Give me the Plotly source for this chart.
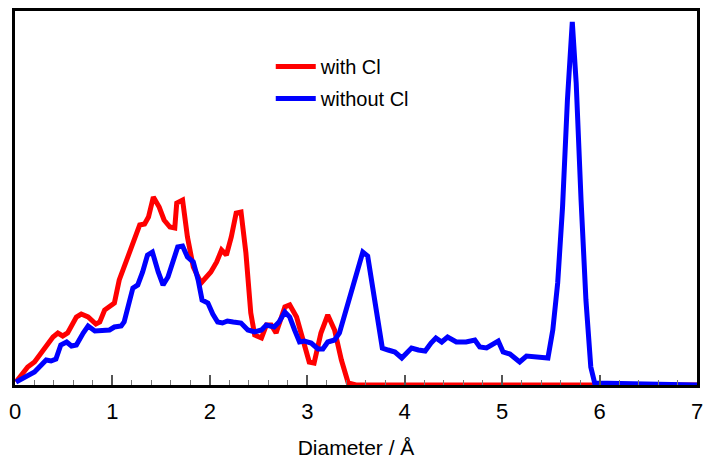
import plotly.graph_objects as go

# Diameter (Å) and distribution (arbitrary units)
x_with = [0.01, 0.13, 0.20, 0.29, 0.39, 0.44, 0.49, 0.54, 0.63, 0.68, 0.75, 0.83, 0.87, 0.92, 0.97,
          1.02, 1.07, 1.14, 1.21, 1.28, 1.33, 1.37, 1.42, 1.48, 1.53, 1.59, 1.64, 1.66, 1.72, 1.77,
          1.83, 1.91, 2.01, 2.07, 2.12, 2.17, 2.22, 2.27, 2.32, 2.37, 2.42, 2.46, 2.53, 2.58, 2.63,
          2.68, 2.77, 2.82, 2.89, 2.97, 3.02, 3.07, 3.14, 3.21, 3.28, 3.35, 3.42, 3.50, 7.00]
y_with = [3, 18, 23, 35, 48, 52, 49, 52, 68, 71, 68, 61, 63, 75, 79,
          82, 105, 123, 142, 160, 161, 168, 188, 178, 165, 158, 157, 182, 185, 148,
          118, 102, 113, 123, 135, 130, 148, 172, 173, 132, 72, 50, 47, 60, 60,
          52, 78, 80, 68, 38, 23, 22, 52, 70, 55, 25, 2, 0, 0]

x_without = [0.01, 0.11, 0.20, 0.27, 0.32, 0.37, 0.42, 0.47, 0.53, 0.58, 0.63, 0.70, 0.75, 0.82, 0.89,
             0.97, 1.02, 1.09, 1.12, 1.18, 1.21, 1.26, 1.31, 1.36, 1.41, 1.47, 1.52, 1.57, 1.62, 1.67,
             1.72, 1.77, 1.83, 1.88, 1.92, 1.98, 2.03, 2.08, 2.13, 2.18, 2.24, 2.32, 2.39, 2.46, 2.53,
             2.58, 2.66, 2.71, 2.77, 2.82, 2.87, 2.92, 2.97, 3.04, 3.11, 3.16, 3.21, 3.28, 3.33, 3.40,
             3.47, 3.52, 3.57, 3.62, 3.67, 3.72, 3.77, 3.83, 3.90, 3.97, 4.02, 4.07, 4.14, 4.21, 4.27,
             4.32, 4.38, 4.44, 4.53, 4.63, 4.72, 4.77, 4.84, 4.89, 4.96, 5.01, 5.08, 5.13, 5.18, 5.25,
             5.33, 5.40, 5.47, 5.52, 5.57, 5.62, 5.67, 5.72, 5.76, 5.81, 5.86, 5.91, 5.95, 7.00]
y_without = [3, 8, 13, 20, 25, 24, 26, 40, 43, 39, 40, 52, 59, 54, 54,
             55, 58, 59, 63, 85, 97, 100, 113, 130, 133, 113, 100, 108, 123, 138,
             139, 128, 123, 105, 85, 82, 71, 63, 62, 64, 63, 62, 55, 53, 55,
             60, 58, 63, 73, 68, 55, 43, 44, 42, 36, 36, 43, 45, 52, 75,
             98, 118, 133, 129, 98, 62, 37, 35, 33, 27, 32, 37, 35, 34, 42,
             47, 43, 48, 43, 43, 45, 38, 37, 40, 44, 33, 31, 27, 23, 29,
             28, 27, 27, 55, 102, 178, 285, 363, 302, 185, 85, 18, 2, 0]

x_ticks = [0, 1, 2, 3, 4, 5, 6, 7]
series_names = ["with Cl", "without Cl"]

FONT = "Liberation Sans, Arial, sans-serif"

fig = go.Figure()
fig.add_trace(go.Scatter(x=x_with, y=y_with, mode="lines", name=series_names[0],
                         legendgroup="a",
                         line=dict(color="#ff0000", width=5)))
fig.add_trace(go.Scatter(x=x_without, y=y_without, mode="lines", name=series_names[1],
                         legendgroup="b",
                         line=dict(color="#0000ff", width=5)))

fig.update_layout(
    width=709, height=463,
    margin=dict(l=15, r=12, t=11, b=78, autoexpand=False),
    paper_bgcolor="white", plot_bgcolor="white",
    font=dict(family=FONT, size=20, color="black"),
    showlegend=True,
    legend=dict(x=0.375, y=0.904, xanchor="left", yanchor="top",
                bgcolor="rgba(0,0,0,0)", font=dict(size=20, family=FONT),
                itemwidth=40, tracegroupgap=3),
)
fig.update_xaxes(
    range=[0, 7], tickvals=x_ticks, ticktext=[str(t) for t in x_ticks],
    ticks="inside", ticklen=10, tickwidth=1.5, tickcolor="#555555",
    ticklabelstandoff=5,
    minor=dict(dtick=0.2, ticks="inside", ticklen=5, tickwidth=1.2, tickcolor="#777777", showgrid=False),
    showline=True, linewidth=3, linecolor="black", mirror=True,
    showgrid=False, zeroline=False, automargin=False,
    tickfont=dict(size=22, family=FONT),
    title=dict(text="Diameter / Å", font=dict(size=21, family=FONT), standoff=17),
)
fig.update_yaxes(
    range=[0, 374], showticklabels=False, ticks="",
    showline=True, linewidth=3, linecolor="black", mirror=True,
    showgrid=False, zeroline=False, automargin=False,
)

fig.write_html("out.html", config={"displayModeBar": False},
               post_script="document.body.style.margin='0';")
